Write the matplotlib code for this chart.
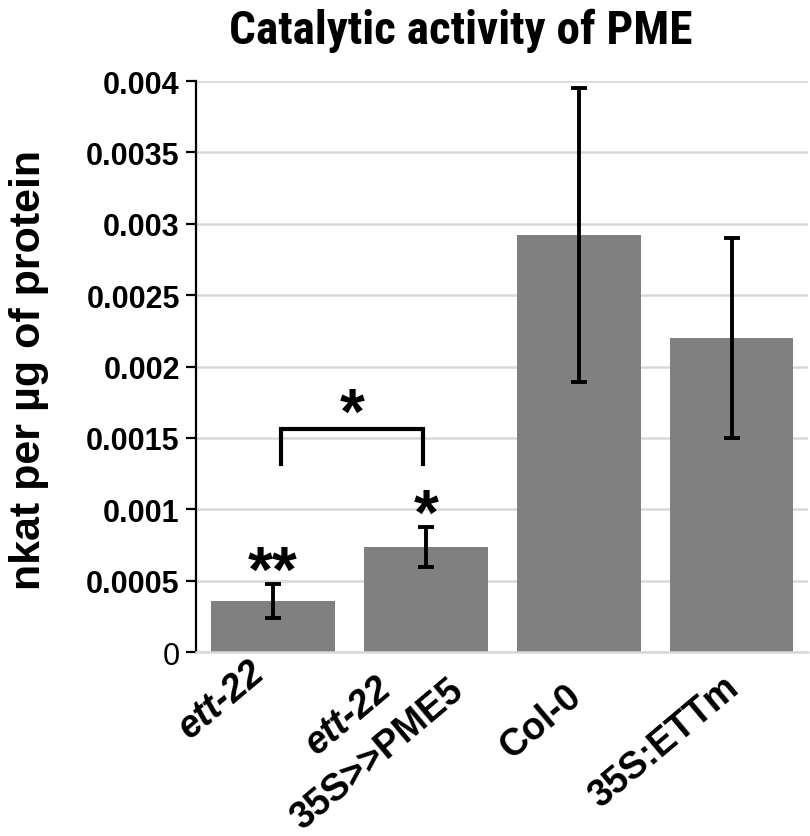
import matplotlib
matplotlib.use("Agg")
import matplotlib.pyplot as plt
from matplotlib import font_manager

# data
genotypes = ["ett-22", "ett-22\n35S>>PME5", "Col-0", "35S:ETTm"]
activity = [0.000357, 0.000735, 0.00292, 0.0022]
activity_err = [0.00012, 0.00014, 0.00103, 0.0007]
stars = ["**", "*", "", ""]
ytick_values = [0, 0.0005, 0.001, 0.0015, 0.002, 0.0025, 0.003, 0.0035, 0.004]
ytick_labels = ["0", "0.0005", "0.001", "0.0015", "0.002", "0.0025", "0.003", "0.0035", "0.004"]
bracket_pair = (0, 1)
bracket_star = "*"

plt.rcParams["font.family"] = ["Liberation Sans", "DejaVu Sans"]

fig = plt.figure(figsize=(8.1, 8.37), dpi=100)
ax = fig.add_axes([0.2425, 0.2198, 0.755, 0.6822])

x = list(range(len(genotypes)))

ax.bar(x, activity, width=0.81, color="#808080", zorder=2)
ax.errorbar(
    x,
    activity,
    yerr=activity_err,
    fmt="none",
    ecolor="black",
    elinewidth=2.8,
    capsize=5.5,
    capthick=2.8,
    zorder=3,
)

ax.set_xlim(-0.5, len(genotypes) - 0.5)
ax.set_ylim(0, 0.004)

ax.set_yticks(ytick_values)
ax.set_yticklabels(ytick_labels, fontsize=22, fontweight="bold")
ax.get_yticklabels()[0].set_fontweight("normal")
ax.tick_params(axis="y", direction="out", length=7, width=1.6, pad=5)

ax.set_xticks(x)
ax.set_xticklabels([])
ax.tick_params(axis="x", length=0)

ax.grid(axis="y", color="#d9d9d9", linewidth=1.8, zorder=0)
ax.set_axisbelow(True)

for side in ["top", "right"]:
    ax.spines[side].set_visible(False)
ax.spines["left"].set_linewidth(1.6)
ax.spines["bottom"].set_color("#d9d9d9")
ax.spines["bottom"].set_linewidth(1.8)

# rotated category labels, the ett-22 mutant name in italics
label_offsets = {
    "ett-22": [(-9, -11)],
    "ett-22\n35S>>PME5": [(-28, -22), (23.5, -24)],
    "Col-0": [(-1, -28)],
    "35S:ETTm": [(2, -22)],
}
for i, name in enumerate(genotypes):
    for j, line in enumerate(name.split("\n")):
        style = "italic" if line == "ett-22" else "normal"
        ax.annotate(
            line,
            xy=(i, 0),
            xycoords="data",
            xytext=label_offsets[name][j],
            textcoords="offset points",
            rotation=40,
            rotation_mode="anchor",
            ha="right",
            va="center",
            fontsize=27,
            fontweight="bold",
            fontstyle=style,
            annotation_clip=False,
        )

# significance asterisks above the error bars
for i, s in enumerate(stars):
    if s:
        ax.text(
            i,
            activity[i] + activity_err[i] - 0.00005,
            s,
            ha="center",
            va="baseline",
            fontsize=46,
            fontweight="bold",
        )

# bracket between ett-22 and ett-22 35S>>PME5
x0, x1 = bracket_pair
bracket_y = 0.00156
ax.plot(
    [x0 + 0.05, x0 + 0.05, x1 - 0.02, x1 - 0.02],
    [0.00132, bracket_y, bracket_y, 0.00132],
    color="black",
    linewidth=3,
    solid_joinstyle="miter",
    zorder=4,
)
ax.text(
    (x0 + x1) / 2 + 0.02,
    bracket_y - 0.000025,
    bracket_star,
    ha="center",
    va="baseline",
    fontsize=46,
    fontweight="bold",
)

fig.text(
    0.036,
    0.558,
    "nkat per µg of protein",
    rotation=90,
    ha="center",
    va="center",
    fontsize=31,
    fontweight="bold",
)

# the title font is a narrow bold face; use one if installed
installed = {f.name for f in font_manager.fontManager.ttflist}
title_font, title_size = "Liberation Sans", 28.8
for name in ["Liberation Sans Narrow", "Roboto Condensed", "Open Sans Condensed"]:
    if name in installed:
        title_font, title_size = name, 34
        break

fig.text(
    0.569,
    0.963,
    "Catalytic activity of PME",
    ha="center",
    va="center",
    fontsize=title_size,
    fontweight="bold",
    family=[title_font, "DejaVu Sans"],
)

fig.savefig("out.png", dpi=100)
